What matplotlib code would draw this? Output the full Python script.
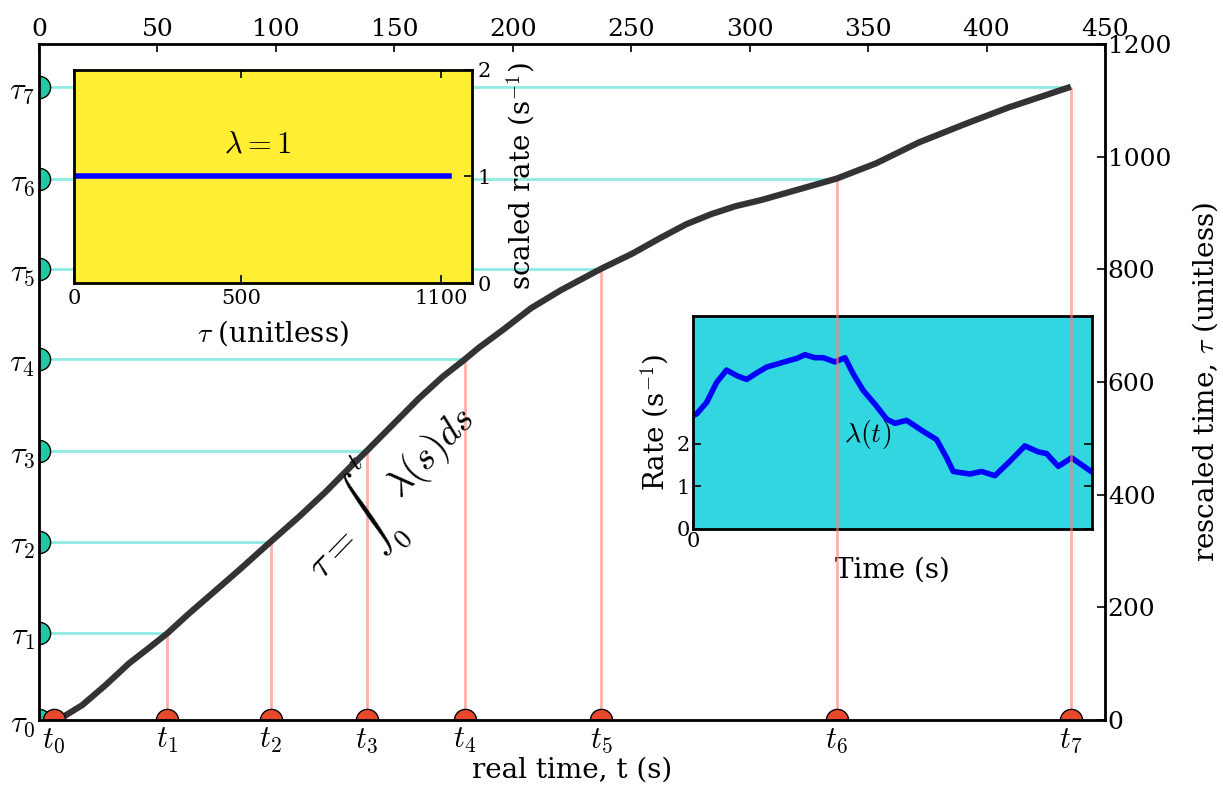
import matplotlib
matplotlib.use('Agg')
import matplotlib.pyplot as plt
from matplotlib.path import Path

plt.rcParams['font.family'] = ['DejaVu Serif']
plt.rcParams['mathtext.fontset'] = 'cm'
plt.rcParams['xtick.direction'] = 'in'
plt.rcParams['ytick.direction'] = 'in'
plt.rcParams['xtick.major.size'] = 6
plt.rcParams['ytick.major.size'] = 6

# spike times (s) and their rescaled times
t_events = [6.3, 54.2, 97.8, 138.3, 179.7, 237.3, 336.7, 435.6]
tau_events = [0, 154, 316.5, 477.5, 640, 801, 961, 1124]
t_labels = ['$t_%d$' % i for i in range(8)]
tau_labels = ['$\\tau_%d$' % i for i in range(8)]

# rescaled time curve tau(t)
curve_t = [8.0, 18.3, 28.1, 38.0, 46.4, 54.2, 63.3, 73.2, 84.4, 97.8, 109.8,
           121.0, 130.9, 138.3, 149.2, 160.4, 170.3, 179.7, 185.7, 196.0,
           207.7, 220.3, 237.3, 250.5, 262.0, 273.2, 283.8, 294.0, 304.9,
           320.0, 336.7, 353.3, 371.3, 391.0, 409.1, 435.6]
curve_tau = [0, 26.6, 62, 100.6, 128, 154, 189, 225, 266, 316.5, 361,
             405, 447, 477.5, 523.6, 571, 609, 640, 661, 693,
             731, 763, 801, 828, 855, 880, 898, 912, 923,
             941, 961, 988, 1025, 1058, 1087, 1124]

# rate lambda(t) for the inset
rate_t = [0, 4.0, 15.1, 26.1, 37.1, 48.2, 59.2, 70.2, 81.3, 95.9, 107.0,
          114.3, 123.5, 134.5, 143.7, 156.6, 167.6, 176.8, 187.8, 200.7,
          213.6, 222.8, 235.7, 254.0, 268.7, 279.8, 287.1, 305.5, 318.3,
          333.0, 349.6, 366.1, 380.8, 390.0, 402.9, 417.6, 437.8, 440]
rate_val = [2.66, 2.70, 2.97, 3.44, 3.73, 3.60, 3.51, 3.66, 3.80, 3.89, 3.96,
            4.00, 4.09, 4.02, 4.02, 3.92, 4.02, 3.64, 3.25, 2.93,
            2.58, 2.48, 2.55, 2.29, 2.10, 1.67, 1.35, 1.29, 1.35,
            1.25, 1.59, 1.95, 1.81, 1.77, 1.47, 1.67, 1.37, 1.34]

red = '#e8492d'
green = '#20c9a6'
half_up = Path.wedge(0, 180)
half_right = Path.wedge(-90, 90)

fig = plt.figure(figsize=(12.23, 7.95), dpi=100)
ax = fig.add_axes([0.0319, 0.0943, 0.8716, 0.8504])
ax.set_zorder(2)
ax.patch.set_visible(False)

ax.hlines(tau_events, 0, t_events, color='turquoise', alpha=0.6, lw=2)
ax.vlines(t_events, 0, tau_events, color='salmon', alpha=0.6, lw=2)
ax.plot(curve_t, curve_tau, color='#333333', lw=4.5,
        solid_joinstyle='round', solid_capstyle='butt')
ax.plot([0] * len(tau_events), tau_events, ls='none', marker=half_right,
        ms=16, mfc=green, mec='k', mew=1)
ax.plot(t_events, [0] * len(t_events), ls='none', marker=half_up,
        ms=16, mfc=red, mec='k', mew=1)
ax.set_xlim(0, 450)
ax.set_ylim(0, 1200)
ax.set_xticks(t_events)
ax.set_xticklabels(t_labels, fontsize=22)
ax.set_yticks(tau_events)
ax.set_yticklabels(tau_labels, fontsize=22)
ax.tick_params(top=True, right=True, width=1.2, pad=3)
ax.set_xlabel('real time, t (s)', fontsize=20, labelpad=1)
for s in ax.spines.values():
    s.set_linewidth(2)

ax.text(148, 405, '$\\tau = \\int_0^t \\lambda(s) ds$', fontsize=28,
        rotation=46, ha='center', va='center')

axt = ax.twiny()
axt.set_xlim(0, 450)
axt.set_xticks([0, 50, 100, 150, 200, 250, 300, 350, 400, 450])
axt.tick_params(labelsize=18, width=1.2, pad=2)

axr = ax.twinx()
axr.set_ylim(0, 1200)
axr.set_yticks([0, 200, 400, 600, 800, 1000, 1200])
axr.tick_params(labelsize=18, width=1.2, pad=2)
axr.set_ylabel('rescaled time, $\\tau$ (unitless)', fontsize=20, labelpad=14)

# inset: rescaled rate
ax1 = fig.add_axes([0.0605, 0.644, 0.3254, 0.268])
ax1.set_zorder(5)
ax1.set_facecolor('#ffee33')
ax1.plot([0, tau_events[-1]], [1, 1], color='blue', lw=4)
ax1.set_xlim(0, 1192)
ax1.set_ylim(0, 2)
ax1.set_xticks([0, 500, 1100])
ax1.set_yticks([0, 1, 2])
ax1.tick_params(labelsize=15, top=True, right=True, left=False,
                labelleft=False, labelright=True, width=1.2, pad=4)
ax1.yaxis.set_label_position('right')
ax1.set_ylabel('scaled rate (s$^{-1}$)', fontsize=20, labelpad=10)
ax1.set_xlabel('$\\tau$ (unitless)', fontsize=20, labelpad=8)
ax1.text(550, 1.3, '$\\lambda = 1$', fontsize=22, ha='center', va='center')
for s in ax1.spines.values():
    s.set_linewidth(2)

# inset: real rate
ax2 = fig.add_axes([0.5666, 0.3346, 0.3262, 0.268])
ax2.set_zorder(1)
ax2.set_facecolor('#32d6e0')
ax2.plot(rate_t, rate_val, color='blue', lw=4, solid_joinstyle='round')
ax2.set_xlim(0, 440)
ax2.set_ylim(0, 5)
ax2.set_xticks([0])
ax2.set_yticks([0, 1, 2])
ax2.tick_params(labelsize=15, right=True, width=1.2, pad=2)
ax2.set_ylabel('Rate (s$^{-1}$)', fontsize=20)
ax2.set_xlabel('Time (s)', fontsize=20)
ax2.text(193, 2.22, '$\\lambda(t)$', fontsize=20, ha='center', va='center')
for s in ax2.spines.values():
    s.set_linewidth(2)

fig.savefig('out.png', dpi=100, facecolor='white')
